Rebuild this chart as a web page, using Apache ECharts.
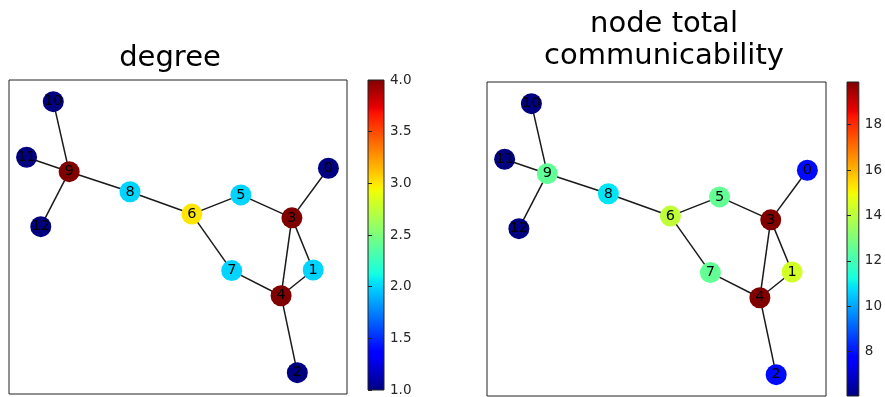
<!DOCTYPE html>
<html>
<head>
<meta charset="utf-8">
<script src="https://cdn.jsdelivr.net/npm/echarts@6/dist/echarts.min.js"></script>
<style>html,body{margin:0;padding:0;background:#fff;}#c{width:885px;height:397px;}</style>
</head>
<body>
<div id="c"></div>
<script>
// ---- data ----
const nodeNames = ['0','1','2','3','4','5','6','7','8','9','10','11','12'];
// layout positions (fraction of the axes box)
const nodeX = [0.945, 0.900, 0.853, 0.837, 0.805, 0.686, 0.541, 0.659, 0.358, 0.178, 0.131, 0.052, 0.094];
const nodeY = [0.719, 0.395, 0.068, 0.561, 0.313, 0.634, 0.573, 0.393, 0.644, 0.708, 0.931, 0.754, 0.533];
const edges = [[10,9],[11,9],[12,9],[9,8],[8,6],[6,5],[6,7],[5,3],[3,0],[3,1],[3,4],[1,4],[7,4],[4,2]];
const degree = [1, 2, 1, 4, 4, 2, 3, 2, 2, 4, 1, 1, 1];
const communicability = [7.9, 14.4, 7.9, 19.88, 19.88, 12.55, 14.1, 12.55, 10.9, 12.5, 6.05, 6.05, 6.05];
const degreeTicks = [1.0, 1.5, 2.0, 2.5, 3.0, 3.5, 4.0];
const commTicks = [8, 10, 12, 14, 16, 18];
const titles = ['degree', 'node total', 'communicability'];

// ---- jet colormap (matplotlib segment data) ----
const JET = {
  r: [[0,0],[0.35,0],[0.66,1],[0.89,1],[1,0.5]],
  g: [[0,0],[0.125,0],[0.375,1],[0.64,1],[0.91,0],[1,0]],
  b: [[0,0.5],[0.11,1],[0.34,1],[0.65,0],[1,0]]
};
function seg(s, t){
  for (let i=1;i<s.length;i++){
    if (t <= s[i][0]) {
      const a=s[i-1], b=s[i];
      return a[1] + (b[1]-a[1])*(t-a[0])/(b[0]-a[0]);
    }
  }
  return s[s.length-1][1];
}
function jet(t){
  t = Math.max(0, Math.min(1, t));
  const c = ['r','g','b'].map(k => Math.round(seg(JET[k], t)*255));
  return 'rgb(' + c.join(',') + ')';
}
const jetStops = [0,0.11,0.125,0.34,0.35,0.375,0.64,0.65,0.66,0.89,0.91,1].map(o => ({offset:o, color:jet(o)}));

function graphSeries(values, idx){
  const mn = Math.min(...values), mx = Math.max(...values);
  return {
    type: 'graph', layout: 'none', coordinateSystem: 'cartesian2d',
    xAxisIndex: idx, yAxisIndex: idx,
    symbol: 'circle', symbolSize: 21, silent: true,
    data: nodeNames.map((n,i) => ({
      name: n, value: [nodeX[i], nodeY[i]],
      itemStyle: {color: jet((values[i]-mn)/(mx-mn)), borderWidth: 0}
    })),
    links: edges.map(e => ({source: String(e[0]), target: String(e[1])})),
    lineStyle: {color: '#1a1a1a', width: 1.5, opacity: 1, curveness: 0},
    label: {show: true, position: 'inside', color: '#000', fontSize: 14.5, fontFamily: 'DejaVu Sans',
            formatter: p => p.name},
    emphasis: {disabled: true}
  };
}

const plotAxis = {type:'value', min:0, max:1, show:false};
function cbAxis(idx, mn, mx, ticks, fmt){
  return {type:'value', gridIndex: idx, position:'right', min: mn, max: mx,
    axisLine:{show:false}, splitLine:{show:false},
    axisTick:{show:true, length:4, customValues: ticks, lineStyle:{color:'#222', width:1}},
    axisLabel:{show:true, margin:6, customValues: ticks, color:'#262626', fontSize:13.5, fontFamily:'DejaVu Sans', formatter: fmt}};
}
function cbGrid(left, top){
  return {left: left, top: top, width: 16, height: 314, show: true,
    backgroundColor: new echarts.graphic.LinearGradient(0,1,0,0, jetStops),
    borderColor: '#222', borderWidth: 1};
}

const chart = echarts.init(document.getElementById('c'), null, {renderer:'canvas'});
chart.setOption({
  animation: false,
  backgroundColor: '#fff',
  grid: [
    {left: 9, top: 80, width: 338, height: 314, show: true, borderColor: '#222', borderWidth: 1, backgroundColor: '#fff'},
    cbGrid(368, 80),
    {left: 487, top: 82, width: 339, height: 314, show: true, borderColor: '#222', borderWidth: 1, backgroundColor: '#fff'},
    cbGrid(847, 82)
  ],
  xAxis: [
    Object.assign({gridIndex:0}, plotAxis),
    {type:'value', gridIndex:1, show:false, min:0, max:1},
    Object.assign({gridIndex:2}, plotAxis),
    {type:'value', gridIndex:3, show:false, min:0, max:1}
  ],
  yAxis: [
    Object.assign({gridIndex:0}, plotAxis),
    cbAxis(1, Math.min(...degree), Math.max(...degree), degreeTicks, v => Number(v).toFixed(1)),
    Object.assign({gridIndex:2}, plotAxis),
    cbAxis(3, Math.min(...communicability), Math.max(...communicability), commTicks, v => String(Math.round(v)))
  ],
  graphic: [
    {type:'text', x:170, y:58, silent:true, style:{text: titles[0], font:'29px "DejaVu Sans"', fill:'#000', textAlign:'center', textVerticalAlign:'middle'}},
    {type:'text', x:664, y:24, silent:true, style:{text: titles[1], font:'29px "DejaVu Sans"', fill:'#000', textAlign:'center', textVerticalAlign:'middle'}},
    {type:'text', x:664, y:56, silent:true, style:{text: titles[2], font:'29px "DejaVu Sans"', fill:'#000', textAlign:'center', textVerticalAlign:'middle'}}
  ],
  series: [graphSeries(degree, 0), graphSeries(communicability, 2)]
});
</script>
</body>
</html>
